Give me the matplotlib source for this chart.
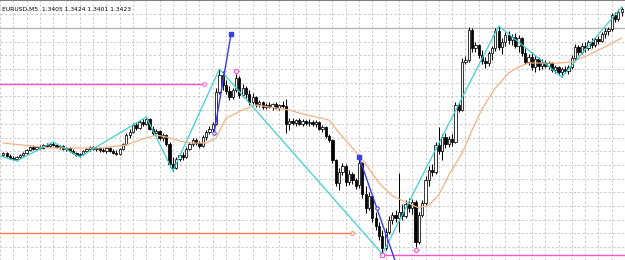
import matplotlib
matplotlib.use("Agg")
import matplotlib.pyplot as plt
import numpy as np

title_text = "EURUSD,M5  1.3405 1.3424 1.3401 1.3423"

# OHLC per bar (price units, higher = up)
opens = [105,107,104,102,101,103,105,107,110,113,111,113,112,115,114,116,115,113,114,111,112,109,107,105,106,109,111,113,111,112,
         110,109,112,109,107,106,111,116,125,128,135,132,138,136,141,131,127,129,122,125,116,96,92,101,105,103,111,116,120,117,114,123,
         128,131,136,168,185,175,169,163,170,182,165,172,166,158,163,156,158,153,155,153,156,152,155,154,136,139,137,140,136,139,137,138,136,
         138,131,133,124,120,100,77,88,94,78,86,80,75,97,66,52,64,42,34,24,12,28,40,45,42,48,44,56,52,58,
         18,45,57,80,90,88,115,109,123,116,121,118,155,150,198,200,230,212,215,205,199,197,207,212,229,213,218,225,220,223,214,222,207,198,203,
         193,201,194,198,194,197,190,193,188,191,189,193,202,213,208,214,212,218,215,221,219,226,229,231,245,241,248]
highs = [108,108,106,104,104,106,108,111,114,115,114,115,116,117,117,118,116,115,115,113,113,111,108,107,110,112,114,114,113,113,
         112,113,113,111,110,112,117,127,131,137,138,140,141,143,142,134,131,130,127,126,118,103,103,107,108,113,118,122,122,119,125,130,
         134,138,172,191,189,180,174,172,186,184,176,174,170,167,164,160,159,157,158,157,158,156,159,161,142,142,141,142,141,140,141,140,140,
         139,135,134,126,121,101,92,97,96,90,88,82,103,98,74,68,65,48,38,30,32,44,48,50,87,56,60,62,61,60,
         48,60,84,94,96,118,133,126,127,124,126,158,158,202,204,233,232,218,216,210,203,209,214,232,234,222,228,229,226,227,225,223,212,206,208,
         205,203,201,200,199,198,195,194,193,194,195,205,216,215,217,218,220,222,223,224,228,232,233,247,248,251,253]
lows = [104,103,101,100,99,102,104,106,109,110,110,111,111,113,113,114,112,111,110,109,108,106,104,103,105,108,109,110,109,108,
        108,107,108,106,105,105,110,115,122,127,130,131,134,135,130,125,126,120,119,114,93,89,91,99,100,102,110,114,115,112,113,120,
        126,127,135,166,170,166,160,161,168,162,163,162,155,156,153,153,151,151,152,150,151,150,152,127,130,135,134,135,134,135,134,134,133,
        130,128,122,118,97,74,70,85,74,75,76,71,72,62,47,50,38,30,20,6,10,26,36,38,28,40,42,48,46,13,
        16,43,55,74,84,86,106,100,112,113,114,117,148,149,196,198,208,208,202,196,192,194,200,209,210,206,214,216,215,212,208,204,196,195,190,
        188,190,191,192,191,188,187,185,183,187,186,191,200,205,206,208,210,212,213,216,218,222,225,229,238,239,244]
closes = [107,104,102,101,103,105,107,110,113,111,113,112,115,114,116,115,113,114,111,112,109,107,105,106,109,111,113,111,112,110,
          109,112,109,107,106,111,116,125,128,135,132,138,136,141,131,127,129,122,125,116,96,92,101,105,103,111,116,120,117,114,123,128,
          131,136,168,185,175,169,163,170,182,165,172,166,158,163,156,158,153,155,153,156,152,155,154,136,139,137,140,136,139,137,138,136,138,
          131,133,124,120,100,77,88,94,78,86,80,74,97,66,52,64,42,34,24,12,28,40,45,42,48,44,56,52,58,18,
          45,57,80,90,88,115,109,123,116,121,118,155,150,198,200,230,212,215,205,199,197,207,212,229,213,218,225,220,223,214,222,207,198,203,193,
          201,194,198,194,197,190,193,188,191,189,193,202,213,208,214,212,218,215,221,219,226,229,231,245,241,248,251]

# moving average (bar index, value)
ma_idx = [0,14,29,37,41,46,49,52,56,61,64,67,72,76,80,86,89,94,98,101,105,109,113,117,121,125,128,131,134,138,141,144,148,152,155,158,167,171,176,181,186]
ma_val = [117,112,112,115,120,125,123,120,117,117,122,142,150,155,153,150,147,143,140,127,112,96,77,64,58,52,55,65,85,107,130,151,172,187,193,197,197,198,205,213,222]

# zigzag vertices
zz_idx = [-1,4,15,23,43,51,65,114,149,168,186]
zz_val = [104,99,118,103,143,89,191,6,234,183,253]

# trend lines (blue)
tl1_idx = [63.4, 68.5]
tl1_val = [127, 226]
tl2_idx = [107, 118.5]
tl2_val = [103, -7]
tl2_mid = (112.3, 52)

# horizontal levels
pink_top = (176, -1, 60.4)      # level, start bar, end bar
orange_low = (27, -1, 104.8)
pink_low = (5.5, 113.8, 190)
gray_level = 232.5

# fractal markers (bar index)
frac_up = 70
frac_dn = 124

fig = plt.figure(figsize=(6.25, 2.6), dpi=100)
ax = fig.add_axes([0, 0, 1, 1])
ax.set_xlim(-0.81, 186.7)
ax.set_ylim(0, 260)

# grid
ax.set_xticks(np.arange(-1, 188, 4))
ax.set_yticks(np.arange(245.7, 0, -13.7))
ax.grid(True, color="#cccccc", linestyle=(0, (2.5, 2)), linewidth=0.7)
ax.tick_params(length=0, labelbottom=False, labelleft=False)
for s in ["left", "right", "bottom"]:
    ax.spines[s].set_visible(False)
ax.spines["top"].set_color("#808080")
ax.spines["top"].set_linewidth(1.5)
ax.set_axisbelow(True)

ax.axhline(gray_level, color="#b4b4b4", lw=1.0, zorder=1)

# horizontal levels
ax.plot([pink_top[1], pink_top[2]], [pink_top[0]] * 2, color="#ff55c8", lw=1.0, zorder=2)
ax.plot([pink_top[2]], [pink_top[0]], marker="o", ms=2.6, mfc="white", mec="#ff55c8", mew=0.7, zorder=6)
ax.plot([orange_low[1], orange_low[2]], [orange_low[0]] * 2, color="#ff7f50", lw=1.0, zorder=2)
ax.plot([orange_low[2]], [orange_low[0]], marker="o", ms=2.6, mfc="white", mec="#ff7f50", mew=0.7, zorder=6)
ax.plot([pink_low[1], pink_low[2]], [pink_low[0]] * 2, color="#ff55c8", lw=1.0, zorder=2)
ax.plot([pink_low[1]], [pink_low[0]], marker="s", ms=2.5, mfc="white", mec="#ff55c8", mew=0.7, zorder=6)

# candles
idx = np.arange(len(closes))
o = np.array(opens, float); c = np.array(closes, float)
h = np.array(highs, float); l = np.array(lows, float)
ax.vlines(idx, l, h, color="black", lw=0.75, zorder=3)
bull = c >= o
bottoms = np.minimum(o, c)
heights = np.maximum(np.abs(c - o), 0.8)
ax.bar(idx, heights, bottom=bottoms, width=0.68,
       color=np.where(bull, "white", "black"), edgecolor="black", linewidth=0.55, zorder=4)

# moving average
ax.plot(ma_idx, ma_val, color="#f5b183", lw=0.9, zorder=5)

# zigzag
ax.plot(zz_idx, zz_val, color="#3fd0d4", lw=0.9, zorder=5)

# blue trend lines
ax.plot(tl1_idx, tl1_val, color="#3b3bf0", lw=1.0, zorder=6)
ax.plot([tl1_idx[0]], [tl1_val[0]], marker="o", ms=2.5, mfc="white", mec="#3b3bf0", mew=0.7, zorder=7)
ax.plot([tl1_idx[1]], [tl1_val[1]], marker="s", ms=2.2, color="#3b3bf0", zorder=7)
ax.plot(tl2_idx, tl2_val, color="#3b3bf0", lw=1.0, zorder=6)
ax.plot([tl2_idx[0]], [tl2_val[0]], marker="s", ms=2.2, color="#3b3bf0", zorder=7)
ax.plot([tl2_mid[0]], [tl2_mid[1]], marker="o", ms=2.5, mfc="white", mec="#3b3bf0", mew=0.7, zorder=7)

# fractal markers
ax.plot([frac_up], [h[frac_up] + 3], marker="o", ms=3, mfc="white", mec="#ff55c8", mew=0.8, zorder=7)
ax.plot([frac_dn], [l[frac_dn] - 3], marker="o", ms=3, mfc="white", mec="#ff55c8", mew=0.8, zorder=7)

ax.text(0.003, 0.975, title_text, transform=ax.transAxes, fontsize=4.3,
        va="top", ha="left", color="black", family="DejaVu Sans")

fig.savefig("out.png", dpi=100)
